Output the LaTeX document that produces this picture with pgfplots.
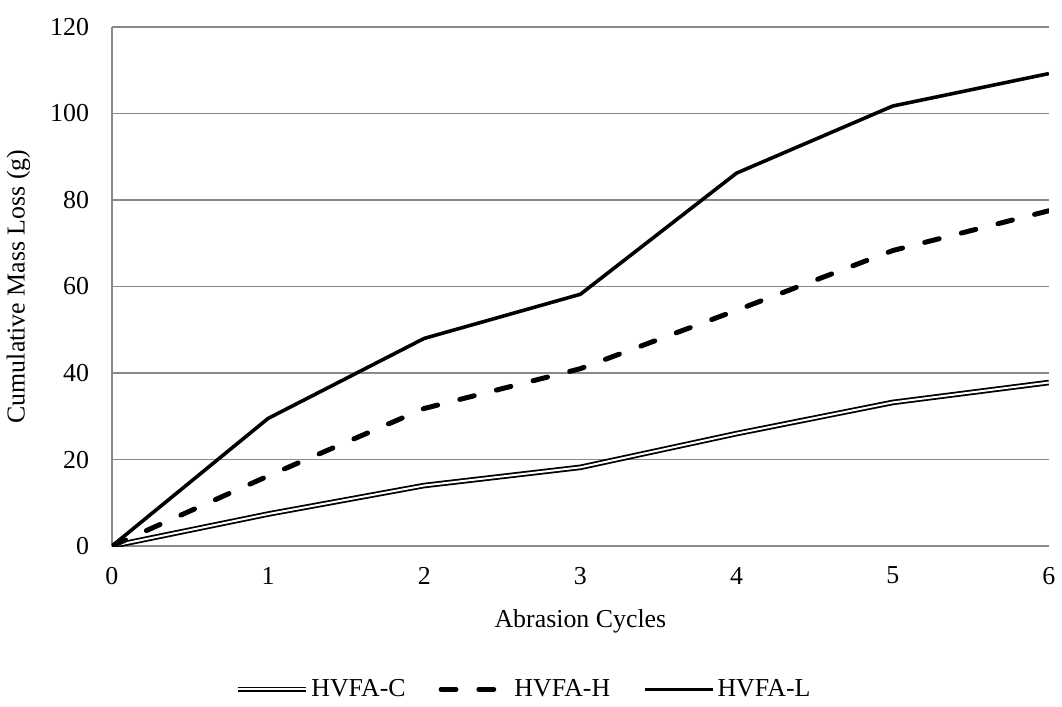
\documentclass[border=0pt]{standalone}
\usepackage{fontspec}
\setmainfont{Liberation Serif}
\usepackage{pgfplots}
\pgfplotsset{compat=1.18}
\definecolor{gridgray}{RGB}{137,137,137}
\newcommand{\chartfont}{\fontsize{13pt}{15pt}\selectfont}

\begin{document}
\begin{tikzpicture}
\begin{axis}[
    scale only axis,
    width=471pt,
    height=261pt,
    xmin=0, xmax=6,
    ymin=0, ymax=120,
    xtick={0,1,...,6},
    ytick={0,20,...,120},
    axis x line*=bottom,
    axis y line*=left,
    axis line style={gridgray, line width=0.8pt, -},
    major tick length=0pt,
    ymajorgrids=true,
    grid style={gridgray, line width=0.8pt},
    /pgf/number format/assume math mode=true,
    tick label style={font=\chartfont},
    xticklabel style={yshift=-7pt},
    yticklabel style={xshift=-8pt},
    xlabel={Abrasion Cycles},
    ylabel={Cumulative Mass Loss (g)},
    label style={font=\chartfont},
    x label style={at={(axis description cs:0.5,-0.144)}, anchor=center},
    y label style={at={(axis description cs:-0.0998,0.5)}, anchor=center},
    legend style={at={(0.44,-0.276)}, anchor=center, draw=none,
        legend columns=3, font=\chartfont,
        nodes={inner sep=1.5pt},
        /tikz/every even column/.append style={column sep=15pt}},
    legend cell align=left,
    legend image post style={xscale=2},
]
% HVFA-C: hollow double line
\addplot[black, line width=0.9pt, double=white, double distance=1.0pt] coordinates {
    (0,0) (1,7.4) (2,14.0) (3,18.2) (4,26.0) (5,33.2) (6,37.8)
};
\addlegendentry{HVFA-C}
% HVFA-H: heavy dashes
\addplot[black, line width=2.5pt, line cap=round, dash pattern=on 7.5pt off 11.5pt] coordinates {
    (0,0) (1,16.2) (2,31.8) (3,41.0) (4,54.5) (5,68.3) (6,77.5)
};
\addlegendentry{HVFA-H}
% HVFA-L: solid
\addplot[black, line width=1.8pt] coordinates {
    (0,0) (1,29.5) (2,48.0) (3,58.2) (4,86.2) (5,101.7) (6,109.2)
};
\addlegendentry{HVFA-L}
\end{axis}
\path (-55pt,-79.5pt) rectangle (476pt,274.5pt);
\end{tikzpicture}
\end{document}
